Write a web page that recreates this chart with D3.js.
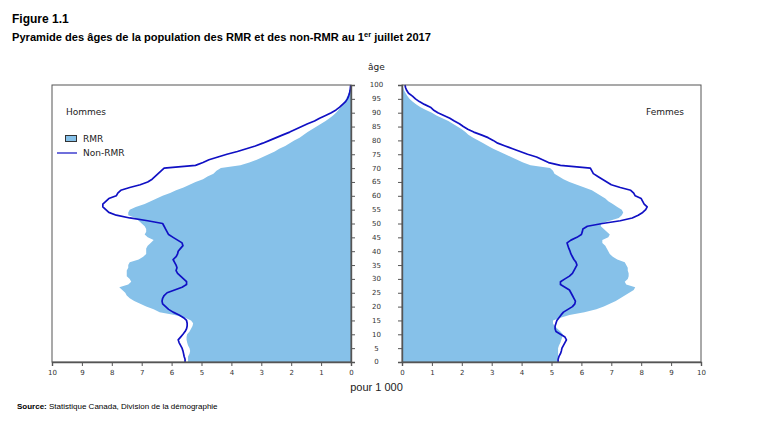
<!DOCTYPE html>
<html>
<head>
<meta charset="utf-8">
<script src="https://cdn.jsdelivr.net/npm/d3@7"></script>
<style>
  html, body { margin: 0; padding: 0; background: #fff; }
  svg { display: block; }
</style>
</head>
<body>
<svg id="chart" width="766" height="437"></svg>
<script>
// Ages 0..100 (single years)
const ages = d3.range(0, 101);
const ageTicks = [0,5,10,15,20,25,30,35,40,45,50,55,60,65,70,75,80,85,90,95,100];
const valueTicks = [0,1,2,3,4,5,6,7,8,9,10];

// Per 1 000 population, males, RMR (CMA)
const menRMR = [
  5.45,5.45,5.45,5.40,5.38,5.40,5.45,5.48,5.50,5.50,
  5.48,5.40,5.35,5.30,5.28,5.35,5.55,5.90,6.40,6.60,
  6.85,7.05,7.25,7.40,7.50,7.55,7.65,7.75,7.45,7.35,
  7.40,7.50,7.50,7.50,7.45,7.45,7.40,7.10,6.95,6.85,
  6.85,6.85,6.80,6.70,6.60,6.80,6.90,6.85,6.85,6.90,
  7.00,7.10,7.20,7.45,7.45,7.40,7.20,6.90,6.70,6.50,
  6.30,6.05,5.85,5.60,5.40,5.20,4.95,4.80,4.60,4.50,
  4.35,3.70,3.40,3.15,2.95,2.75,2.55,2.40,2.20,2.05,
  1.90,1.72,1.58,1.45,1.30,1.15,1.00,0.85,0.72,0.60,
  0.50,0.42,0.35,0.28,0.22,0.16,0.12,0.08,0.05,0.03,
  0.02
];
// Males, non-RMR
const menNonRMR = [
  5.55,5.55,5.58,5.60,5.62,5.65,5.70,5.75,5.78,5.70,
  5.62,5.55,5.50,5.48,5.48,5.50,5.60,5.75,5.95,6.10,
  6.20,6.30,6.32,6.30,6.25,6.15,5.90,5.65,5.50,5.50,
  5.60,5.70,5.80,5.85,5.82,5.85,5.90,5.95,5.85,5.80,
  5.78,5.70,5.62,5.65,5.80,5.95,6.10,6.15,6.20,6.25,
  6.30,6.80,7.40,7.85,8.10,8.20,8.30,8.30,8.20,8.10,
  7.85,7.80,7.70,7.40,7.05,6.80,6.65,6.55,6.45,6.35,
  6.25,5.20,4.95,4.75,4.45,4.15,3.80,3.50,3.20,2.95,
  2.72,2.50,2.28,2.05,1.85,1.65,1.45,1.22,1.05,0.85,
  0.66,0.50,0.38,0.28,0.18,0.12,0.08,0.05,0.03,0.02,
  0.01
];
// Females, RMR
const womenRMR = [
  5.20,5.20,5.22,5.22,5.22,5.22,5.25,5.30,5.33,5.36,
  5.38,5.30,5.20,5.10,5.05,5.05,5.30,5.60,6.10,6.50,
  6.75,6.95,7.15,7.30,7.45,7.60,7.75,7.80,7.50,7.45,
  7.55,7.58,7.58,7.55,7.55,7.50,7.45,7.20,7.05,6.95,
  6.90,6.85,6.80,6.70,6.70,6.90,6.95,6.85,6.75,6.65,
  6.65,6.95,7.25,7.35,7.40,7.35,7.20,7.05,6.90,6.80,
  6.65,6.50,6.35,6.10,5.85,5.60,5.40,5.25,5.10,5.05,
  4.95,4.30,4.05,3.85,3.65,3.45,3.25,3.05,2.88,2.72,
  2.55,2.38,2.22,2.12,2.00,1.85,1.70,1.55,1.35,1.15,
  1.00,0.80,0.62,0.48,0.35,0.25,0.18,0.12,0.07,0.04,
  0.02
];
// Females, non-RMR
const womenNonRMR = [
  5.22,5.22,5.25,5.30,5.33,5.35,5.40,5.45,5.50,5.45,
  5.30,5.15,5.12,5.12,5.15,5.18,5.25,5.32,5.40,5.55,
  5.70,5.78,5.80,5.75,5.70,5.65,5.60,5.45,5.30,5.30,
  5.45,5.60,5.70,5.75,5.80,5.85,5.82,5.75,5.70,5.65,
  5.62,5.58,5.55,5.52,5.65,5.85,6.00,6.03,6.05,6.20,
  6.70,7.30,7.70,7.90,8.05,8.15,8.20,8.10,8.05,8.00,
  7.80,7.75,7.65,7.30,7.00,6.85,6.70,6.55,6.40,6.35,
  6.30,5.30,4.90,4.70,4.50,4.20,3.95,3.70,3.45,3.20,
  3.05,2.88,2.65,2.40,2.20,2.05,1.92,1.75,1.60,1.40,
  1.20,1.05,0.95,0.75,0.58,0.45,0.35,0.22,0.16,0.12,
  0.10
];

const svg = d3.select("#chart");
const fillColor = "#86C1E9";
const lineColor = "#1010C4";
const axisColor = "#555";
const tickFont = "DejaVu Sans, Verdana, sans-serif";

const plotTop = 85, plotBottom = 362;
const y = d3.scaleLinear().domain([0, 100]).range([plotBottom, plotTop]);
const xL = d3.scaleLinear().domain([0, 10]).range([351, 52]);
const xR = d3.scaleLinear().domain([0, 10]).range([402, 701]);

// Titles
svg.append("text").attr("x", 12).attr("y", 23)
  .attr("font-family", "Liberation Sans, Arial, sans-serif").attr("font-weight", "bold").attr("font-size", 12)
  .attr("fill", "#000").text("Figure 1.1");
const sub = svg.append("text").attr("x", 12).attr("y", 41)
  .attr("font-family", "Liberation Sans, Arial, sans-serif").attr("font-weight", "bold").attr("font-size", 11.1)
  .attr("fill", "#000");
sub.append("tspan").text("Pyramide des âges de la population des RMR et des non-RMR au 1");
sub.append("tspan").attr("font-size", 7.5).attr("dy", -4).text("er");
sub.append("tspan").attr("dy", 4).text(" juillet 2017");

function panel(x, rmr, non) {
  const g = svg.append("g");
  const area = d3.area()
    .y((d, i) => y(ages[i]))
    .x0(x(0))
    .x1(d => x(d));
  g.append("path").datum(rmr).attr("d", area).attr("fill", fillColor);
  const line = d3.line()
    .y((d, i) => y(ages[i]))
    .x(d => x(d));
  g.append("path").datum(non).attr("d", line)
    .attr("fill", "none").attr("stroke", lineColor).attr("stroke-width", 1.7)
    .attr("stroke-linejoin", "round");
  // frame
  const x0 = x(0), x10 = x(10);
  g.append("rect")
    .attr("x", Math.min(x0, x10)).attr("y", plotTop)
    .attr("width", Math.abs(x10 - x0)).attr("height", plotBottom - plotTop)
    .attr("fill", "none").attr("stroke", axisColor).attr("stroke-width", 1);
  // bottom axis
  const ax = g.append("g").attr("transform", `translate(0,${plotBottom})`)
    .call(d3.axisBottom(x).tickValues(valueTicks).tickSize(4).tickPadding(4).tickFormat(d3.format("d")));
  ax.select(".domain").attr("stroke", axisColor).attr("stroke-width", 1.4);
  ax.selectAll(".tick line").attr("stroke", axisColor);
  ax.selectAll("text").attr("font-family", tickFont).attr("font-size", 7).attr("fill", "#333");
  return g;
}
panel(xL, menRMR, menNonRMR);
panel(xR, womenRMR, womenNonRMR);

// Vertical age axes
const axL = svg.append("g").attr("transform", `translate(${xL(0)},0)`)
  .call(d3.axisRight(y).tickValues(ageTicks).tickSize(4).tickFormat(() => ""));
axL.select(".domain").attr("stroke", axisColor).attr("stroke-width", 1.4);
axL.selectAll(".tick line").attr("stroke", axisColor);
const axR = svg.append("g").attr("transform", `translate(${xR(0)},0)`)
  .call(d3.axisLeft(y).tickValues(ageTicks).tickSize(4).tickFormat(() => ""));
axR.select(".domain").attr("stroke", axisColor).attr("stroke-width", 1.4);
axR.selectAll(".tick line").attr("stroke", axisColor);

const midX = (xL(0) + xR(0)) / 2;
svg.append("g").selectAll("text").data(ageTicks).join("text")
  .attr("x", midX).attr("y", d => y(d)).attr("dy", "0.35em")
  .attr("text-anchor", "middle")
  .attr("font-family", tickFont).attr("font-size", 7).attr("fill", "#333")
  .text(d => d);

svg.append("text").attr("x", midX).attr("y", 70).attr("text-anchor", "middle")
  .attr("font-family", tickFont).attr("font-size", 9).attr("fill", "#222").text("âge");
svg.append("text").attr("x", midX).attr("y", 391).attr("text-anchor", "middle")
  .attr("font-family", "Liberation Sans, Arial, sans-serif").attr("font-size", 11).attr("fill", "#222").text("pour 1 000");

// Panel labels
svg.append("text").attr("x", 66).attr("y", 115)
  .attr("font-family", tickFont).attr("font-size", 9).attr("fill", "#222").text("Hommes");
svg.append("text").attr("x", 646).attr("y", 115)
  .attr("font-family", tickFont).attr("font-size", 9).attr("fill", "#222").text("Femmes");

// Legend
svg.append("rect").attr("x", 65.5).attr("y", 135.5).attr("width", 11).attr("height", 6)
  .attr("fill", fillColor).attr("stroke", "#333").attr("stroke-width", 1);
svg.append("text").attr("x", 83).attr("y", 142)
  .attr("font-family", tickFont).attr("font-size", 9).attr("fill", "#222").text("RMR");
svg.append("line").attr("x1", 57).attr("x2", 77).attr("y1", 153).attr("y2", 153)
  .attr("stroke", lineColor).attr("stroke-width", 1.2);
svg.append("text").attr("x", 83).attr("y", 156)
  .attr("font-family", tickFont).attr("font-size", 9).attr("fill", "#222").text("Non-RMR");

// Source
const src = svg.append("text").attr("x", 17).attr("y", 409)
  .attr("font-family", "Liberation Sans, Arial, sans-serif").attr("font-size", 8).attr("fill", "#000");
src.append("tspan").attr("font-weight", "bold").text("Source:");
src.append("tspan").text(" Statistique Canada, Division de la démographie");
</script>
</body>
</html>
